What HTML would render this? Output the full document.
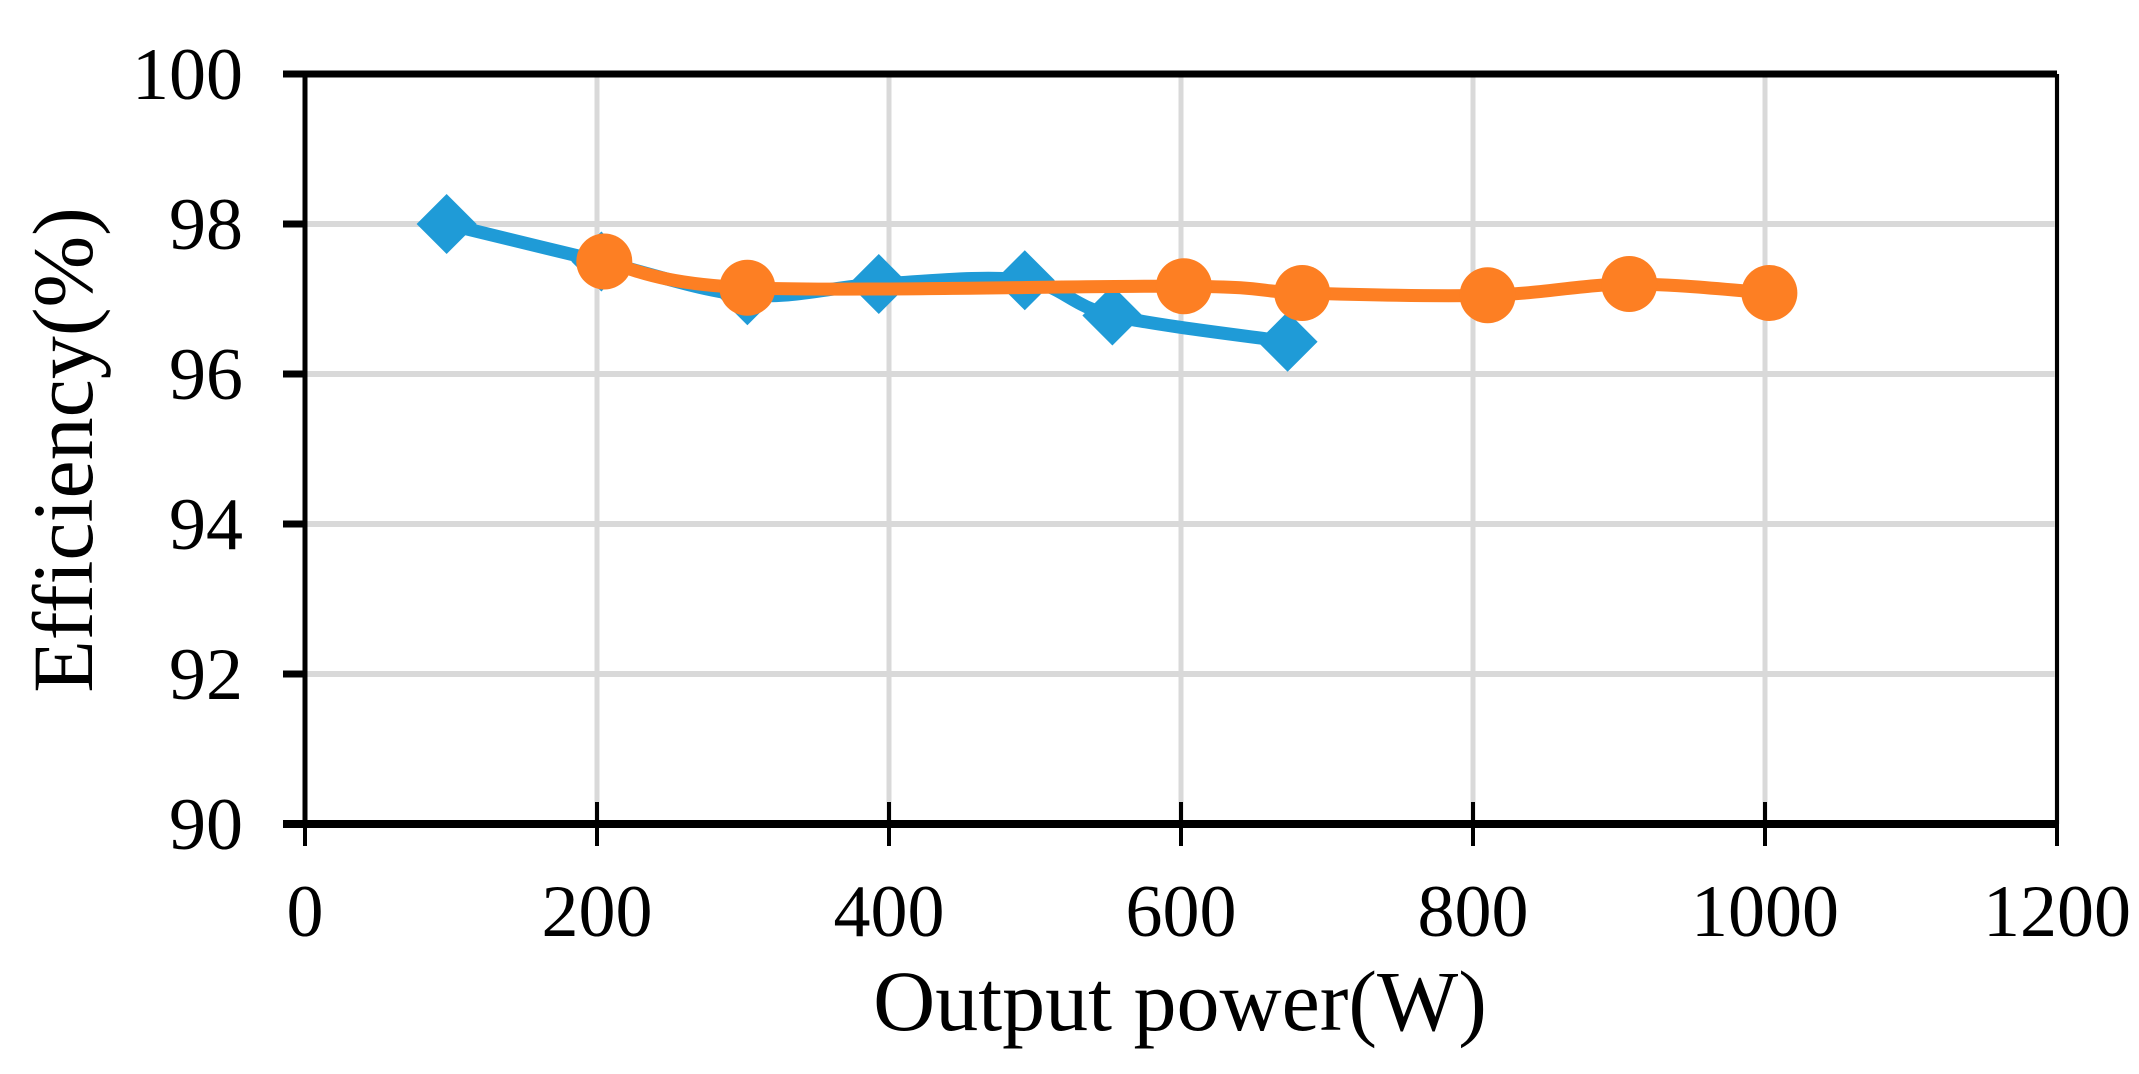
<!DOCTYPE html>
<html><head><meta charset="utf-8"><style>html,body{margin:0;padding:0;background:#fff}svg{display:block}</style></head>
<body>
<svg id="chart" width="2139" height="1074" viewBox="0 0 2139 1074" xmlns="http://www.w3.org/2000/svg" font-family="'Liberation Serif', serif">
<g id="grid"></g>
<g id="axes"></g>
<g id="series"></g>
<text x="1180" y="1030" font-size="86" text-anchor="middle">Output power(W)</text>
<text transform="translate(92,450) rotate(-90)" font-size="86" text-anchor="middle">Efficiency(%)</text>
</svg>
<script>
const xTicks = [0,200,400,600,800,1000,1200];
const yTicks = [90,92,94,96,98,100];
const blueX = [97,203,303,393,493,553,673];
const blueY = [98.0,97.5,97.05,97.2,97.25,96.78,96.43];
const orangeX = [205,303,602,683,810,907,1003];
const orangeY = [97.5,97.15,97.17,97.08,97.05,97.2,97.08];

const NS='http://www.w3.org/2000/svg';
const X0=305,X1=2057,YT=74,YB=824;
const sx=v=>X0+(v-0)/1200*(X1-X0);
const sy=v=>YB-(v-90)/10*(YB-YT);
function mk(tag,attrs,parent){const e=document.createElementNS(NS,tag);for(const k in attrs)e.setAttribute(k,attrs[k]);parent.appendChild(e);return e;}
const grid=document.getElementById('grid'),axes=document.getElementById('axes'),series=document.getElementById('series');
xTicks.forEach(t=>{
  const l=mk('line',{x1:sx(t),x2:sx(t),y1:YT,y2:YB,stroke:'#d9d9d9','stroke-width':5},grid);
  
  
  const tk=mk('line',{x1:sx(t),x2:sx(t),y1:YB-22,y2:YB+22,stroke:'#000','stroke-width':4},axes);
  
  
  const tx=mk('text',{x:sx(t),y:936,'font-size':74,'text-anchor':'middle'},axes);
  tx.textContent=t;
  
  
});
yTicks.forEach(t=>{
  const l=mk('line',{x1:X0,x2:X1,y1:sy(t),y2:sy(t),stroke:'#d9d9d9','stroke-width':6},grid);
  
  
  const tk=mk('line',{x1:X0-22,x2:X0,y1:sy(t),y2:sy(t),stroke:'#000','stroke-width':7},axes);
  
  
  const tx=mk('text',{x:243,y:sy(t)+25,'font-size':74,'text-anchor':'end'},axes);
  tx.textContent=t;
  
  
});
const a1=mk('line',{x1:X0,x2:X0,y1:YT,y2:YB,stroke:'#000','stroke-width':5},axes);


const a2=mk('line',{x1:X0-22,x2:X1,y1:YB,y2:YB,stroke:'#000','stroke-width':8},axes);


const a3=mk('line',{x1:X0-22,x2:X1,y1:YT,y2:YT,stroke:'#000','stroke-width':7},axes);


const a4=mk('line',{x1:X1,x2:X1,y1:YT,y2:YB+22,stroke:'#000','stroke-width':4},axes);



function smooth(xs,ys){
  const p=xs.map((x,i)=>[sx(x),sy(ys[i])]);
  let d='M'+p[0][0]+','+p[0][1];
  for(let i=0;i<p.length-1;i++){
    const p0=p[i-1]||p[i],p1=p[i],p2=p[i+1],p3=p[i+2]||p2,t=1/6;
    d+=' C'+(p1[0]+(p2[0]-p0[0])*t)+','+(p1[1]+(p2[1]-p0[1])*t)+' '+(p2[0]-(p3[0]-p1[0])*t)+','+(p2[1]-(p3[1]-p1[1])*t)+' '+p2[0]+','+p2[1];
  }
  return d;
}
const bl=mk('path',{d:smooth(blueX,blueY),fill:'none',stroke:'#1f9bd7','stroke-width':13},series);


blueX.forEach((x,i)=>{
  const cx=sx(x),cy=sy(blueY[i]),r=30;
  const m=mk('polygon',{points:`${cx},${cy-r} ${cx+r},${cy} ${cx},${cy+r} ${cx-r},${cy}`,fill:'#1f9bd7'},series);
  
  
});
const ol=mk('path',{d:smooth(orangeX,orangeY),fill:'none',stroke:'#fd7f23','stroke-width':13},series);


orangeX.forEach((x,i)=>{
  const m=mk('circle',{cx:sx(x),cy:sy(orangeY[i]),r:28,fill:'#fd7f23'},series);
  
  
});
</script>
</body></html>
